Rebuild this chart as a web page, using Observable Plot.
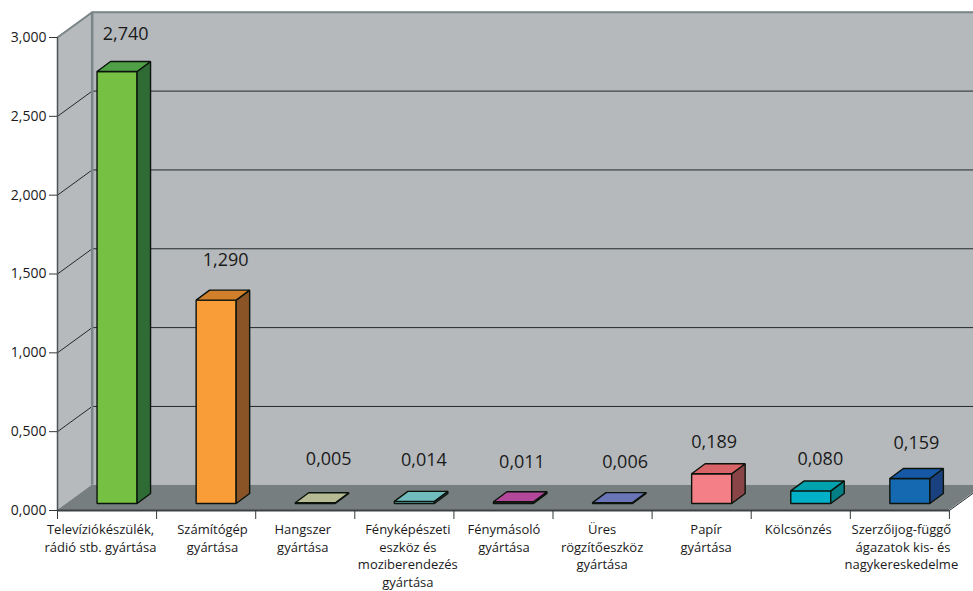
<!DOCTYPE html>
<html><head><meta charset="utf-8">
<script src="https://cdn.jsdelivr.net/npm/d3@7"></script>
<script src="https://cdn.jsdelivr.net/npm/@observablehq/plot@0.6"></script>
<style>html,body{margin:0;padding:0;background:#fff;overflow:hidden}svg{display:block}</style>
</head><body><div id="chart"></div>
<script>
const categories = ["Televíziókészülék,\nrádió stb. gyártása","Számítógép\ngyártása","Hangszer\ngyártása","Fényképészeti\neszköz és\nmoziberendezés\ngyártása","Fénymásoló\ngyártása","Üres\nrögzítőeszköz\ngyártása","Papír\ngyártása","Kölcsönzés","Szerzőijog-függő\n ágazatok kis- és\nnagykereskedelme"];
const values = [2.740,1.290,0.005,0.014,0.011,0.006,0.189,0.080,0.159];
const yTicks = [0,0.5,1,1.5,2,2.5,3];
const frontColors = ["#76c043","#f99d38","#b3b88f","#4f9a9c","#a5388f","#5a63a8","#f47f87","#00b0c8","#1469b0"];
const topColors   = ["#4fa047","#d07f2b","#b6bb94","#71bdbd","#b3479a","#6a75b8","#d86467","#00a3ad","#1558a5"];
const sideColors  = ["#2f6b35","#8a5427","#8b8e70","#3b7a7c","#7a2c6b","#444a85","#884446","#007f86","#1a417f"];
// label placement (chart units)
const valueLabelX = [0.687,1.697,2.737,3.697,4.687,5.727,6.626,7.697,8.667];
const valueLabelY = [3.019,1.590,0.323,0.317,0.304,0.304,0.431,0.323,0.425];
const catLabelX   = [0.434,1.564,2.475,3.535,4.505,5.495,6.545,7.475,8.515];

const fmt = d => d.toFixed(3).replace(".",",");
const wallDX = 0.35, wallDY = 0.16;
const barL = 0.404, barW = 0.404, barDX = 0.136, barDY = 0.0634, barBase = 0.041;
const xEnd = 9.243;

const faces = [];
values.forEach((v,i)=>{
  const x0=i+barL, x1=x0+barW, x2=x1+barDX, xb=x0+barDX;
  const b=barBase, t=b+v;
  const add=(kind,fill,pts)=>pts.forEach(([x,y1,y2])=>faces.push({id:i+kind,x,y1,y2,fill}));
  add("f",frontColors[i],[[x0,b,t],[x1,b,t]]);
  add("s",sideColors[i],[[x1,b,t],[x2,b+barDY,t+barDY]]);
  add("t",topColors[i],[[x0,t,t],[xb,t,t+barDY],[x1,t,t+barDY],[x2,t+barDY,t+barDY]]);
});
const rightY=(xEnd-9)*wallDY/wallDX;
const leftWall=[{x:0,y1:0,y2:3},{x:wallDX,y1:wallDY,y2:3+wallDY}];
const backWall=[{x:wallDX,y1:wallDY,y2:3+wallDY},{x:xEnd,y1:wallDY,y2:3+wallDY}];
const floor=[{x:0,y1:0,y2:0},{x:wallDX,y1:0,y2:wallDY},{x:9,y1:0,y2:wallDY},{x:xEnd,y1:rightY,y2:wallDY}];
const grid=yTicks.slice(1).flatMap(t=>[{k:t,x:0,y:t},{k:t,x:wallDX,y:t+wallDY},{k:t,x:xEnd,y:t+wallDY}]);
const gridLower=grid.filter(d=>d.k<3), gridTop=grid.filter(d=>d.k===3);

const font='"Open Sans"';
const plot=Plot.plot({
  width:973,height:591,marginLeft:57,marginRight:0,marginTop:37,marginBottom:81,
  style:{fontFamily:font,background:"#fff",overflow:"hidden"},
  x:{domain:[0,xEnd],axis:null},
  y:{domain:[0,3],axis:null},
  color:{type:"identity"},
  marks:[
    Plot.areaY(leftWall,{x:"x",y1:"y1",y2:"y2",fill:"#b7babd"}),
    Plot.areaY(backWall,{x:"x",y1:"y1",y2:"y2",fill:"#b5b9bc"}),
    Plot.areaY(floor,{x:"x",y1:"y1",y2:"y2",fill:"#767e80"}),
    Plot.line(gridLower,{x:"x",y:"y",z:"k",stroke:"#23292b",strokeWidth:1}),
    Plot.line(gridTop,{x:"x",y:"y",z:"k",stroke:"#7a8587",strokeWidth:2}),
    Plot.ruleX([wallDX],{y1:wallDY,y2:3+wallDY,stroke:"#7a8587",strokeWidth:2.5}),
    Plot.line([{x:9,y:0},{x:xEnd,y:rightY}],{x:"x",y:"y",stroke:"#23292b",strokeWidth:1}),
    Plot.ruleX([0],{y1:0,y2:3,stroke:"#4d5356",strokeWidth:1.5}),
    Plot.ruleY([0],{x1:0,x2:9,stroke:"#3c4244",strokeWidth:2}),
    Plot.axisY({ticks:yTicks,tickFormat:fmt,tickSize:8,tickPadding:3,fontSize:14,label:null,stroke:"#33393b",color:"#1a1a1a"}),
    Plot.axisX({ticks:d3.range(0,10),tickFormat:()=>"",tickSize:9,label:null,stroke:"#33393b"}),
    Plot.areaY(faces,{x:"x",y1:"y1",y2:"y2",z:"id",fill:"fill",stroke:"#0c130c",strokeWidth:1.4,strokeLinejoin:"miter"}),
    Plot.text(values,{x:(d,i)=>valueLabelX[i],y:(d,i)=>valueLabelY[i],text:fmt,fontSize:18,fill:"#1a1a1a"}),
    Plot.text(categories,{x:(d,i)=>catLabelX[i],frameAnchor:"bottom",dy:11,lineAnchor:"top",text:d=>d,fontSize:13,lineHeight:1.36,fill:"#1a1a1a"})
  ]
});
document.getElementById("chart").append(plot);
</script></body></html>
